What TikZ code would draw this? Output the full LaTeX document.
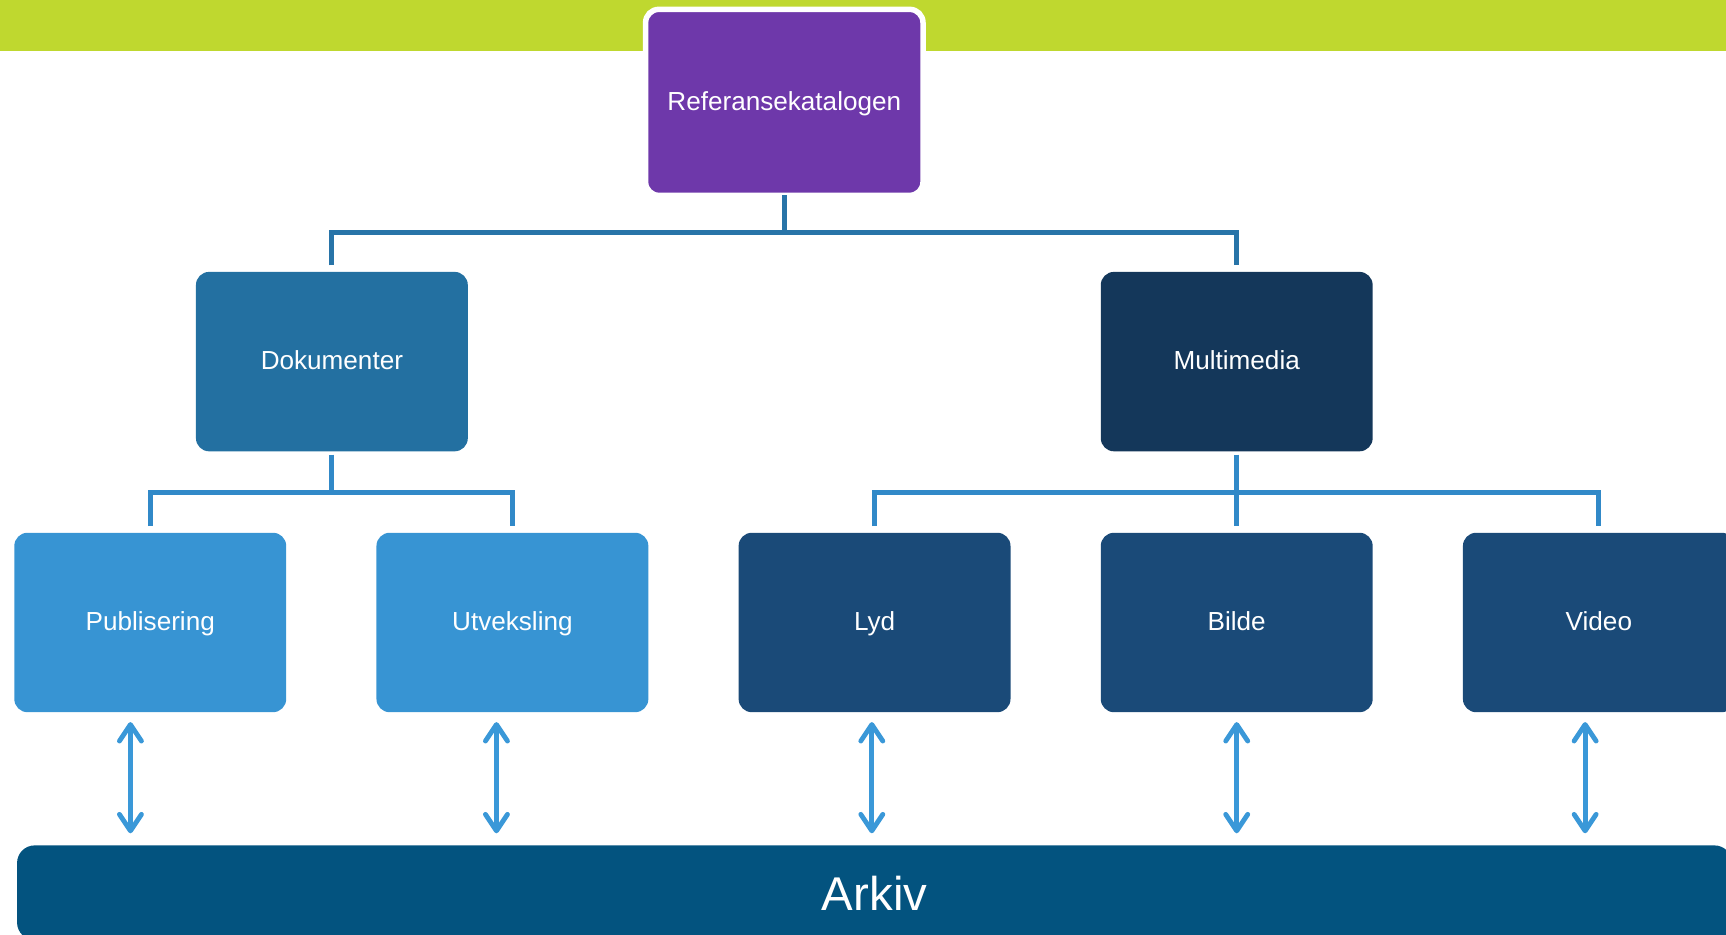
\documentclass[tikz,border=0pt]{standalone}
\usepackage{fontspec}
\setmainfont{Liberation Sans}
\usepackage{xcolor}
\usetikzlibrary{positioning,calc,arrows.meta}

\definecolor{barGreen}{HTML}{BFD82F}
\definecolor{katPurple}{HTML}{6E38AA}
\definecolor{dokBlue}{HTML}{2370A1}
\definecolor{mmNavy}{HTML}{14375A}
\definecolor{lightBlue}{HTML}{3794D3}
\definecolor{darkBlue}{HTML}{1A4A78}
\definecolor{arkivBlue}{HTML}{03537F}
\definecolor{trunkBlue}{HTML}{2874A8}
\definecolor{branchBlue}{HTML}{3189C8}
\definecolor{arrowBlue}{HTML}{3A98D8}

\begin{document}
\begin{tikzpicture}[
    box/.style={rectangle, rounded corners=0.24cm, outer sep=0, text=white,
        minimum width=4.94cm, minimum height=3.26cm, align=center,
        text height=10.6pt, text depth=2.7pt,
        font=\fontsize{13.5pt}{16pt}\selectfont},
    topbox/.style={box, fill=katPurple, draw=white, line width=0.1cm,
        minimum width=5.04cm, minimum height=3.38cm},
    trunk/.style={trunkBlue, line width=2.6pt},
    branch/.style={branchBlue, line width=2.6pt},
    link/.style={arrowBlue, line width=2.5pt,
        {Straight Barb[round, length=0.3cm, width=0.4cm]}-{Straight Barb[round, length=0.3cm, width=0.4cm]},
        shorten <=0.18cm, shorten >=0.22cm}
]
    \useasboundingbox (0,0) rectangle (31.36,-16.98);

    % Top bar
    \fill[barGreen] (0,0) rectangle (31.36,-0.92);

    % Root
    \node[topbox] (ref) at (14.25,-1.86) {Referansekatalogen};

    % Second level
    \node[box, fill=dokBlue, below left=1.39cm and 3.23cm of ref] (dok) {Dokumenter};
    \node[box, fill=mmNavy, below right=1.39cm and 3.23cm of ref] (mm) {Multimedia};

    % Third level
    \node[box, fill=darkBlue, below=1.48cm of mm] (bil) {Bilde};
    \node[box, fill=darkBlue, left=1.64cm of bil] (lyd) {Lyd};
    \node[box, fill=darkBlue, right=1.64cm of bil] (vid) {Video};
    \node[box, fill=lightBlue, left=1.64cm of lyd] (utv) {Utveksling};
    \node[box, fill=lightBlue, left=1.64cm of utv] (pub) {Publisering};

    % Archive
    \node[box, fill=arkivBlue, rounded corners=0.32cm, below=2.42cm of lyd,
        minimum width=31.16cm, minimum height=1.72cm,
        text height=17.9pt, text depth=0pt,
        font=\fontsize{24.5pt}{29pt}\selectfont] (arkiv) {Arkiv};

    % Tree lines
    \coordinate[below=0.67cm of ref] (j1);
    \coordinate[below=0.74cm of dok] (j2);
    \coordinate[below=0.74cm of mm] (j3);
    \draw[trunk] (ref.south) -- (j1);
    \draw[trunk, shorten <=0.12cm, shorten >=0.12cm] (dok.north) |- (j1) -| (mm.north);
    \draw[branch, shorten <=0.06cm] (dok.south) -- (j2);
    \draw[branch, shorten <=0.12cm, shorten >=0.12cm] (pub.north) |- (j2) -| (utv.north);
    \draw[branch, shorten <=0.06cm, shorten >=0.12cm] (mm.south) -- (bil.north);
    \draw[branch, shorten <=0.12cm, shorten >=0.12cm] (lyd.north) |- (j3) -| (vid.north);

    % Arrows to the archive
    \foreach \n/\dx in {pub/-0.36, utv/-0.29, lyd/-0.05, bil/0, vid/-0.25}
        \draw[link] ($(\n.south)+(\dx,0)$) -- ($(\n.south |- arkiv.north)+(\dx,0)$);

\end{tikzpicture}
\end{document}
